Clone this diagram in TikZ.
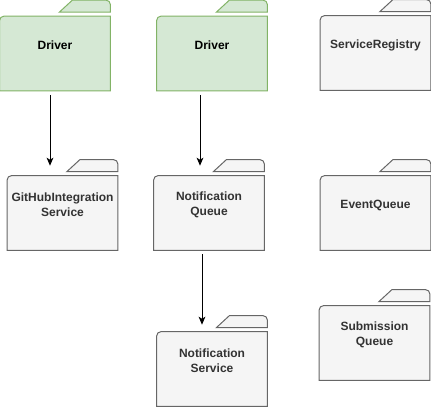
\documentclass[tikz,border=0pt]{standalone}
\usepackage{fontspec}
\setmainfont{Liberation Sans}
\usepackage{tikz}
\usepackage{xcolor}
\usetikzlibrary{arrows.meta, backgrounds}

\definecolor{drvfill}{HTML}{D5E8D4}
\definecolor{drvline}{HTML}{82B366}
\definecolor{svcfill}{HTML}{F5F5F5}
\definecolor{svcline}{HTML}{666666}
\definecolor{svctext}{HTML}{333333}

% folder outline behind a named node: body with round top-left corner, tab at the right
\newcommand{\folder}[2]{%
  \draw[#2] (#1.south west) -- ([yshift=-15pt]#1.north west) arc (180:90:3pt)
    -- ([yshift=-12pt]#1.north east) -- (#1.south east) -- cycle;
  \draw[#2] ([xshift=-38.25pt,yshift=-9pt]#1.north east) -- ([xshift=-28.5pt]#1.north east)
    -- ([xshift=-3pt]#1.north east) arc (90:0:3pt) -- ([yshift=-9pt]#1.north east) -- cycle;
}

\tikzset{
  pkg/.style={minimum width=82.5pt, minimum height=67.5pt, inner sep=0pt, align=center,
    font=\bfseries\fontsize{9}{11.25}\selectfont},
  drvcol/.style={draw=drvline, fill=drvfill, line width=0.75pt},
  svccol/.style={draw=svcline, fill=svcfill, line width=0.75pt},
  arr/.style={-{Stealth[length=6pt, width=5pt, inset=1.5pt]}, line width=0.75pt,
    shorten <=3pt}
}

\begin{document}
\begin{tikzpicture}[x=0.75pt, y=0.75pt]
  \useasboundingbox (0,0) rectangle (431,-407);

  \node [pkg] (drvA) at (55,-45.5) {Driver};
  \node [pkg] (drvB) at (212,-45.5) {Driver};
  \node [pkg, text=svctext] (reg) at (375.5,-45) {ServiceRegistry};
  \node [pkg, text=svctext] (ghis) at (62.5,-205) {GitHubIntegration\\Service};
  \node [pkg, text=svctext] (nq) at (209,-205) {Notification\\Queue};
  \node [pkg, text=svctext] (evq) at (375.5,-205) {EventQueue};
  \node [pkg, text=svctext] (subq) at (374.5,-335) {Submission\\Queue};
  \node [pkg, text=svctext] (ns) at (212,-361) {Notification\\Service};

  \begin{scope}[on background layer]
    \folder{drvA}{drvcol}
    \folder{drvB}{drvcol}
    \folder{reg}{svccol}
    \folder{ghis}{svccol}
    \folder{nq}{svccol}
    \folder{evq}{svccol}
    \folder{subq}{svccol}
    \folder{ns}{svccol}
  \end{scope}

  \draw[arr, shorten >=-4.5pt] ([xshift=-3.75pt]drvA.south) -- ([xshift=-3.75pt]drvA.south |- ghis.north);
  \draw[arr, shorten >=-4.5pt] ([xshift=-9pt]drvB.south) -- ([xshift=-9pt]drvB.south |- nq.north);
  \draw[arr, shorten >=-6.75pt] ([xshift=-5.25pt]nq.south) -- ([xshift=-5.25pt]nq.south |- ns.north);
\end{tikzpicture}
\end{document}
